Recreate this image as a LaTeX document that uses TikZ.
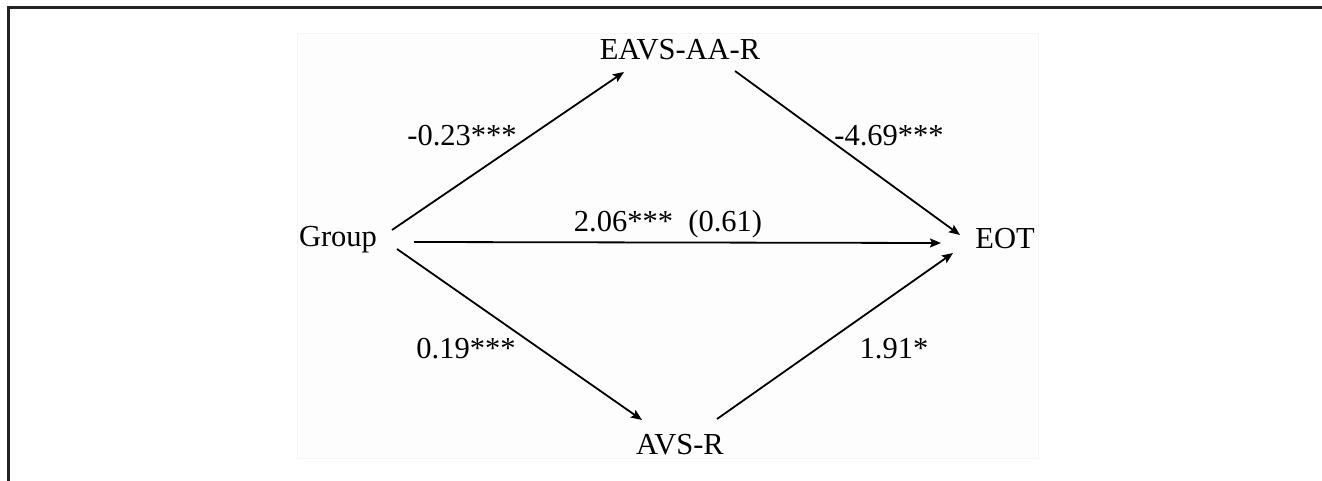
\documentclass[tikz,border=0pt]{standalone}
\usepackage{fontspec}
\setmainfont{Liberation Serif}
\usetikzlibrary{arrows.meta}
\definecolor{framegray}{RGB}{34,34,34}
\definecolor{panelfill}{RGB}{253,253,253}
\definecolor{paneledge}{RGB}{245,245,245}
\tikzset{
  lbl/.style={anchor=base,inner sep=0pt,font=\fontsize{30.5}{35}\selectfont},
  arr/.style={line width=1.8pt,-{Stealth[length=11pt,width=9pt,inset=2pt]}},
}
\begin{document}
\begin{tikzpicture}[x=1pt,y=-1pt]
\useasboundingbox (0,0) rectangle (1322,481);
\fill[white] (0,0) rectangle (1322,481);
% faint panel
\draw[paneledge,fill=panelfill,line width=0.8pt] (297,33) rectangle (1038,458);
% outer frame (top and left)
\draw[framegray,line width=3pt] (8,481) -- (8,7.5) -- (1322,7.5);
% variable nodes
\node[lbl] (group) at (338,247) {Group};
\node[lbl] (eot)   at (1005,248) {EOT};
\node[lbl] (eavs)  at (680,60) {EAVS-AA-R};
\node[lbl] (avs)   at (680,454) {AVS-R};
% connectors
\draw[arr] ([shift={(54,-17)}]group.base) -- ([shift={(-56,12)}]eavs.base);
\draw[arr] ([shift={(55,11)}]eavs.base) -- ([shift={(-45,-13)}]eot.base);
\draw[arr] ([shift={(76,-5)}]group.base) -- ([shift={(-64,-5)}]eot.base);
\draw[arr] ([shift={(59,2)}]group.base) -- ([shift={(-38,-34)}]avs.base);
\draw[arr] ([shift={(37,-35)}]avs.base) -- ([shift={(-52,5)}]eot.base);
% coefficient labels
\node[lbl] (la) at (462,146) {-0.23***};
\node[lbl] (lb) at (889,146) {-4.69***};
\node[lbl] (lc) at (668,232) {2.06***\ \ (0.61)};
\node[lbl] (ld) at (466,358) {0.19***};
\node[lbl] (le) at (894,358) {1.91*};
\end{tikzpicture}
\end{document}
